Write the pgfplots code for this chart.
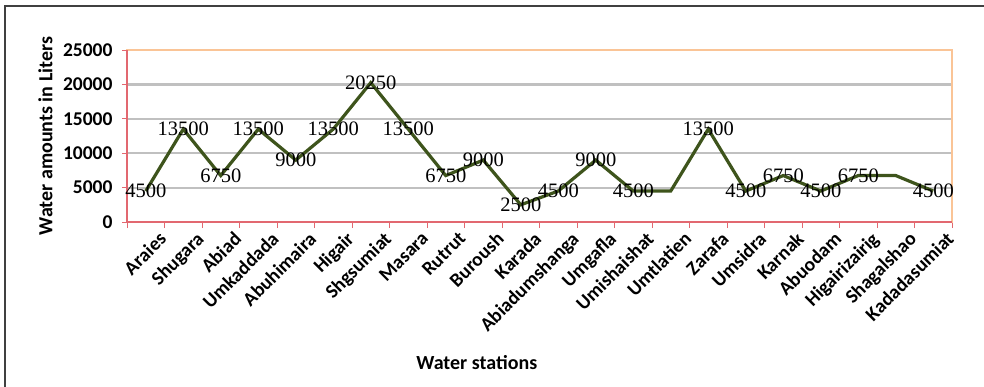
\documentclass[border=0pt]{standalone}
\usepackage{pgfplots}
\pgfplotsset{compat=1.18}
\usepackage{fontspec}
\setmainfont{Carlito}
\newfontfamily\serifnum{Liberation Serif}
\definecolor{lineg}{RGB}{62,84,28}
\definecolor{gridg}{RGB}{192,192,192}
\definecolor{axred}{RGB}{226,104,112}
\definecolor{axorange}{RGB}{250,196,150}
\begin{document}
\begin{tikzpicture}
\path[use as bounding box] (0bp,0bp) rectangle (984bp,387bp);
\draw[black!75,line width=1.5bp] (5bp,0bp) -- (5bp,381bp) -- (984bp,381bp);
\begin{axis}[
  at={(127bp,165bp)}, anchor=south west,
  scale only axis, width=825bp, height=172bp,
  xmin=0.5, xmax=22.5, ymin=0, ymax=25000,
  ytick={0,5000,...,25000},
  scaled y ticks=false,
  /pgf/number format/1000 sep={},
  /pgf/number format/assume math mode=true,
  yticklabel style={font=\fontsize{19.5bp}{21bp}\selectfont\bfseries, xshift=-6bp},
  xtick={1,...,22},
  xticklabels={Araies,Shugara,Abiad,Umkaddada,Abuhimaira,Higair,Shgsumiat,Masara,Rutrut,Buroush,Karada,Abiadumshanga,Umgafla,Umishaishat,Umtlatien,Zarafa,Umsidra,Karnak,Abuodam,Higairizairig,Shagalshao,Kadadasumiat},
  xticklabel style={rotate=45, anchor=north east, font=\fontsize{19.5bp}{21bp}\selectfont\bfseries, inner sep=1bp, xshift=7bp, yshift=-10bp},
  major x tick style={draw=none},
  minor xtick={0.5,1.5,...,22.5},
  minor x tick style={axred, line width=1bp},
  minor tick length=6bp,
  major tick length=5bp,
  tick align=outside,
  xtick pos=bottom, ytick pos=left,
  y tick style={axred, line width=1bp},
  ymajorgrids, grid style={gridg, line width=2.2bp},
  axis line style={axorange, line width=1.2bp},
  ylabel={Water amounts in Liters},
  ylabel style={at={(axis description cs:-0.099,0.5)}, anchor=center, font=\fontsize{20bp}{22bp}\selectfont\bfseries},
  xlabel={Water stations},
  xlabel style={at={(axis description cs:0.424,-0.815)}, anchor=center, font=\fontsize{20bp}{22bp}\selectfont\bfseries},
  clip=false,
]
\addplot[lineg, line width=3.2bp, mark=none] coordinates {
(1,4500) (2,13500) (3,6750) (4,13500) (5,9000) (6,13500) (7,20250) (8,13500) (9,6750) (10,9000) (11,2500) (12,4500) (13,9000) (14,4500) (15,4500) (16,13500) (17,4500) (18,6750) (19,4500) (20,6750) (21,6750) (22,4500)
};
\addplot[draw=none, mark=none, nodes near coords, point meta=explicit,
  every node near coord/.style={anchor=center, font=\fontsize{20.5bp}{22bp}\serifnum, inner sep=0pt}] coordinates {
(1,4500) [4500] (2,13500) [13500] (3,6750) [6750] (4,13500) [13500] (5,9000) [9000] (6,13500) [13500] (7,20250) [20250] (8,13500) [13500] (9,6750) [6750] (10,9000) [9000] (11,2500) [2500] (12,4500) [4500] (13,9000) [9000] (14,4500) [4500] (16,13500) [13500] (17,4500) [4500] (18,6750) [6750] (19,4500) [4500] (20,6750) [6750] (22,4500) [4500]
};
\draw[axred, line width=1.2bp] (rel axis cs:0,1) -- (rel axis cs:0,0) -- (rel axis cs:1,0);
\end{axis}
\end{tikzpicture}
\end{document}
